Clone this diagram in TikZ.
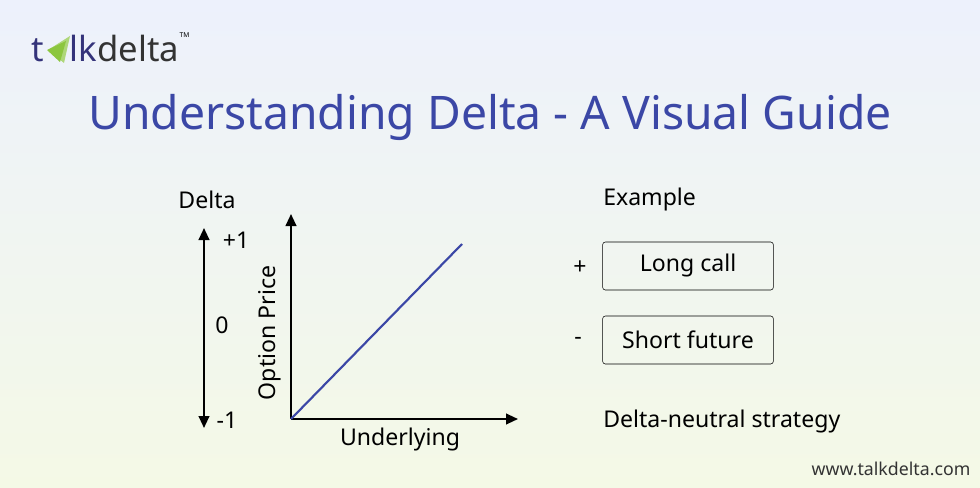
\documentclass[tikz,border=0pt]{standalone}
\usepackage{fontspec}
\setmainfont{Noto Sans}
\usetikzlibrary{arrows.meta,positioning}
\definecolor{titleblue}{HTML}{3B47A6}
\definecolor{navy}{HTML}{34337A}
\definecolor{lime}{HTML}{8CC63F}
\definecolor{topbg}{HTML}{EDF1FC}
\definecolor{botbg}{HTML}{F4F9E6}
\tikzset{
  lbl/.style={font=\fontsize{17.3}{20}\selectfont, text=black, inner sep=0pt},
  examplebox/.style={draw=black, rounded corners=2pt, minimum width=128pt, minimum height=36pt, font=\fontsize{17.3}{20}\selectfont},
  axis/.style={line width=1.5pt, -{Triangle[length=9pt,width=8pt]}}
}
\begin{document}
\begin{tikzpicture}[x=0.75pt,y=-0.75pt]
  % background
  \shade[top color=topbg, bottom color=botbg] (0,0) rectangle (980,488);
  \useasboundingbox (0,0) rectangle (980,488);

  % logo
  \node[anchor=base west, inner sep=0pt, text=navy, font=\fontsize{26}{30}\selectfont] (logot) at (31,62) {t};
  \fill[lime!70] (48,50) -- (70,36) -- (64,63) -- cycle;
  \fill[lime] (47,50) -- (66,41) -- (60,62) -- cycle;
  \node[anchor=base west, inner sep=0pt, text=navy, font=\fontsize{26}{30}\selectfont] (logolk) at (69,62) {lk};
  \node[anchor=base west, inner sep=0pt, text=black!80, font=\fontsize{26}{30}\selectfont] (logodelta) at (logolk.base east) {delta};
  \node[anchor=south west, inner sep=0pt, font=\fontsize{5}{6}\selectfont] (logotm) at ([yshift=-2pt]logodelta.north east) {TM};

  % title
  \node[text=titleblue, font=\fontsize{34.7}{40}\selectfont] (title) at (490,117) {Understanding Delta - A Visual Guide};

  % delta scale
  \node[lbl] (deltalbl) at (207,200) {Delta};
  \coordinate (dtop) at (204,228);
  \coordinate (dbot) at (204,428);
  \draw[line width=1.5pt, {Triangle[length=9pt,width=8pt]}-{Triangle[length=9pt,width=8pt]}] (dtop) -- (dbot);
  \node[lbl] (plusone) at (236,240) {+1};
  \node[lbl] (zero) at (222,325) {0};
  \node[lbl] (minusone) at (227,420) {-1};

  % option price chart
  \coordinate (origin) at (291,419);
  \coordinate (ytip) at (291,214);
  \coordinate (xtip) at (518,419);
  \coordinate (lineend) at (462,244);
  \draw[axis] (origin) -- (ytip);
  \draw[axis] (origin) -- (xtip);
  \draw[titleblue, line width=1.6pt] (origin) -- (lineend);
  \node[lbl, rotate=90] (ylbl) at (270,333) {Option Price};
  \node[lbl] (xlbl) at (400,439) {Underlying};

  % example
  \node[lbl, anchor=west] (examplelbl) at (603,200) {Example};
  \node[examplebox] (longcall) at (688,266) {Long call};
  \node[examplebox] (shortfut) at (688,340) {Short future};
  \node[lbl] (plus) at (580,268) {+};
  \node[lbl] (minus) at (578,341) {-};
  \node[lbl, anchor=west] (neutral) at (603,421) {Delta-neutral strategy};

  % footer
  \node[font=\fontsize{13.3}{15}\selectfont, text=black!80, inner sep=0pt] (url) at (891,469) {www.talkdelta.com};
\end{tikzpicture}
\end{document}
